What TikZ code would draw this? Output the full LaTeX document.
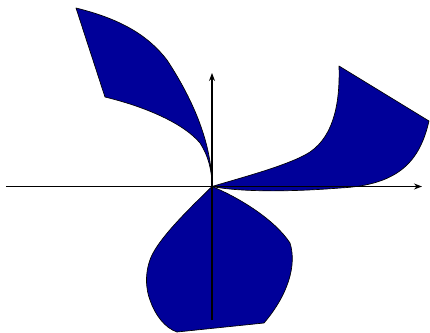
\documentclass[tikz,border=0pt]{standalone}
\usetikzlibrary{arrows.meta}
\definecolor{petal}{RGB}{0,0,153}
\begin{document}
\begin{tikzpicture}[x=0.75pt,y=-0.75pt,
  petalstyle/.style={fill=petal,draw=black,line width=0.5pt,line join=round},
  axisstyle/.style={draw=black,line width=0.9pt,-{Stealth[length=6pt,width=4.5pt]}}]
\useasboundingbox (0,0) rectangle (430,333);
\coordinate (o) at (212,186.5);
\coordinate (xs) at (6,186.5);
\coordinate (xe) at (422,186.5);
\coordinate (ys) at (212,320);
\coordinate (ye) at (212,73);
% upper-left petal
\path[petalstyle] (76,8) .. controls (125,20) and (150,38) .. (167,60)
  .. controls (190,95) and (212,140) .. (o)
  .. controls (212,170) and (208,155) .. (200,143)
  .. controls (185,125) and (150,108) .. (105,97) -- cycle;
% right petal
\path[petalstyle] (o) .. controls (240,178) and (290,165) .. (310,152)
  .. controls (335,135) and (340,100) .. (339,66)
  -- (429,121) .. controls (420,160) and (400,185) .. (340,188)
  .. controls (290,192) and (240,192) .. (o) -- cycle;
% bottom petal
\path[petalstyle] (o) .. controls (190,208) and (162,235) .. (152,255)
  .. controls (144,272) and (146,290) .. (150,300)
  .. controls (155,315) and (165,328) .. (177,332)
  -- (264,323) .. controls (288,295) and (297,265) .. (290,243)
  .. controls (275,220) and (240,198) .. (o) -- cycle;
% axes
\draw[axisstyle] (xs) -- (xe);
\draw[axisstyle] (ys) -- (ye);
\end{tikzpicture}
\end{document}
